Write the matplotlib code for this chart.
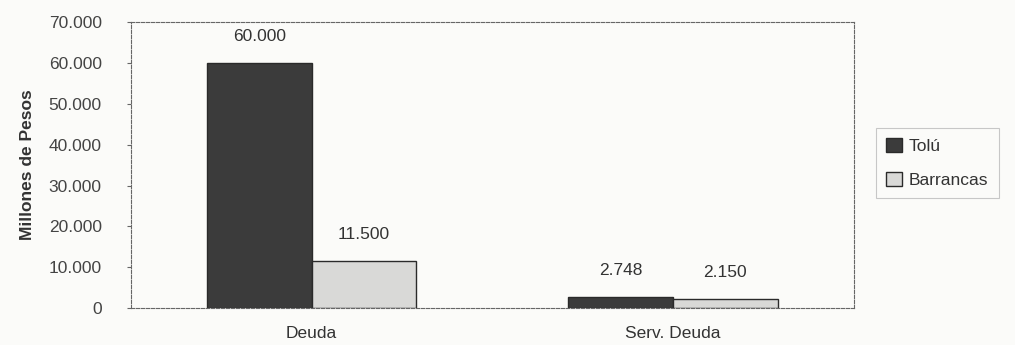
import matplotlib
matplotlib.use("Agg")
from matplotlib import pyplot as plt
from matplotlib.ticker import FuncFormatter
import numpy as np

categories = ["Deuda", "Serv. Deuda"]
series_names = ["Tolú", "Barrancas"]
tolu = [60000, 2748]
barrancas = [11500, 2150]
yticks = [0, 10000, 20000, 30000, 40000, 50000, 60000, 70000]

plt.rcParams['font.family'] = ['Liberation Sans Narrow', 'Liberation Sans', 'DejaVu Sans']

def miles(v, pos=None):
    return f"{int(v):,}".replace(",", ".")

fig = plt.figure(figsize=(10.15, 3.45), dpi=100)
fig.patch.set_facecolor('#fbfbf9')
ax = fig.add_axes([0.129, 0.107, 0.712, 0.829])
ax.set_facecolor('#fbfbf9')

x = np.arange(len(categories))
w = 0.29
colors = ['#3b3b3b', '#d9d9d7']
for i, (vals, name) in enumerate(zip([tolu, barrancas], series_names)):
    pos = x - w/2 + i*w
    bars = ax.bar(pos, vals, w, color=colors[i], edgecolor='#2a2a2a', linewidth=1.0, label=name)
    for b, v in zip(bars, vals):
        ax.annotate(miles(v), (b.get_x() + b.get_width()/2, v), xytext=(0, 19),
                    textcoords='offset points', ha='center', va='center',
                    fontsize=12.5, color='#333333')

ax.set_xlim(-0.5, 1.5)
ax.set_ylim(0, 70000)
ax.set_yticks(yticks)
ax.yaxis.set_major_formatter(FuncFormatter(miles))
ax.set_xticks(x)
ax.set_xticklabels(categories)
ax.tick_params(axis='y', length=3, color='#666666', labelsize=12.5, labelcolor='#444444', pad=18)
ax.tick_params(axis='x', length=0, labelsize=12.5, labelcolor='#333333', pad=13)
for s in ax.spines.values():
    s.set_linestyle((0, (3, 1.5)))
    s.set_color('#666666')
    s.set_linewidth(0.8)

ax.set_ylabel("Millones de Pesos", fontsize=12.5, fontweight='bold', color='#333333', labelpad=10)

leg = fig.legend(loc='upper left', bbox_to_anchor=(0.863, 0.63), fontsize=12.5,
                 frameon=True, fancybox=False, edgecolor='#bbbbbb', facecolor='#fbfbf9',
                 handlelength=0.9, handleheight=0.9, handletextpad=0.4, labelspacing=1.0,
                 borderpad=0.6, borderaxespad=0, labelcolor='#333333')
leg.get_frame().set_linewidth(0.8)

fig.savefig("out.png", dpi=100, facecolor=fig.get_facecolor())
